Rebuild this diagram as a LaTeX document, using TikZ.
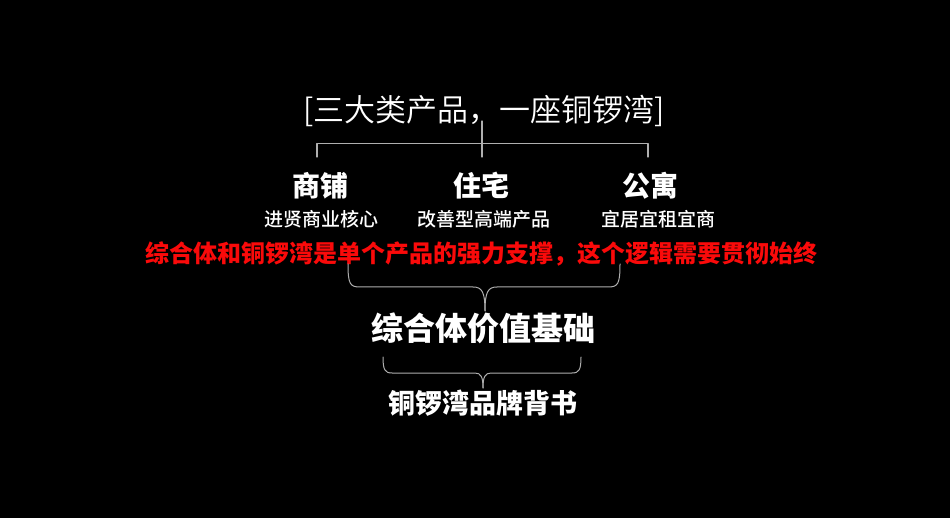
\documentclass[tikz,border=0pt]{standalone}
\usepackage{fontspec}
\newfontfamily\cjk{Noto Sans CJK SC}
\newfontfamily\cjklight{Noto Sans CJK SC DemiLight}
\newfontfamily\cjkmed{Noto Sans CJK SC Medium}
\definecolor{brk}{RGB}{175,175,175}
\definecolor{redt}{RGB}{250,10,10}
\begin{document}
\begin{tikzpicture}[x=1pt,y=-1pt,
  every node/.style={inner sep=0pt,text=white},
  brline/.style={draw=brk,line width=1.3pt,line cap=round,line join=round},
  head/.style={font=\cjk\bfseries\fontsize{28}{32}\selectfont},
  sub/.style={font=\cjkmed\fontsize{19}{22}\selectfont}]
\fill[black] (0,0) rectangle (950,518);
\useasboundingbox (0,0) rectangle (950,518);
% title
\node (title) at (484,111) {\cjklight\fontsize{31}{35}\selectfont [三大类产品，一座铜锣湾]};
% top bracket
\coordinate (tl) at (317,157);
\coordinate (tr) at (648,157);
\coordinate (tc) at (482,121);
\coordinate (tb) at (482,157);
\draw[brline] (tl) -- (317,143.5) -- (648,143.5) -- (tr);
\draw[brline] (tc) -- (tb);
% heads
\node[head] (shop) at (320,186) {商铺};
\node[head] (home) at (481,186) {住宅};
\node[head] (apt) at (650,186) {公寓};
\node[sub] (shops) at (321,219) {进贤商业核心};
\node[sub] (homes) at (484,219) {改善型高端产品};
\node[sub] (apts) at (658,219) {宜居宜租宜商};
% red line
\node[font=\cjk\bfseries\fontsize{24}{28}\selectfont,text=redt] (red) at (481,254) {综合体和铜锣湾是单个产品的强力支撑，这个逻辑需要贯彻始终};
% brace 1
\coordinate (b1l) at (348,264);
\coordinate (b1r) at (620,264);
\coordinate (b1t) at (485,311);
\draw[brline,line width=1pt] (b1l) .. controls (348,284) and (350,287) .. (360,287)
  -- (473,287) .. controls (482,287) and (485,292) .. (b1t);
\draw[brline,line width=1pt] (b1r) .. controls (620,284) and (618,287) .. (608,287)
  -- (497,287) .. controls (488,287) and (485,292) .. (b1t);
% base
\node[font=\cjk\bfseries\fontsize{32}{36}\selectfont] (base) at (483,328) {综合体价值基础};
% brace 2
\coordinate (b2l) at (383,357);
\coordinate (b2r) at (581,357);
\coordinate (b2t) at (483,388);
\draw[brline,line width=1pt] (b2l) .. controls (383,370) and (385,373) .. (392,373)
  -- (475,373) .. controls (481,373) and (483,377) .. (b2t);
\draw[brline,line width=1pt] (b2r) .. controls (581,370) and (579,373) .. (572,373)
  -- (491,373) .. controls (485,373) and (483,377) .. (b2t);
\node[font=\cjk\bfseries\fontsize{27}{31}\selectfont] (brand) at (483,403) {铜锣湾品牌背书};
\end{tikzpicture}
\end{document}
